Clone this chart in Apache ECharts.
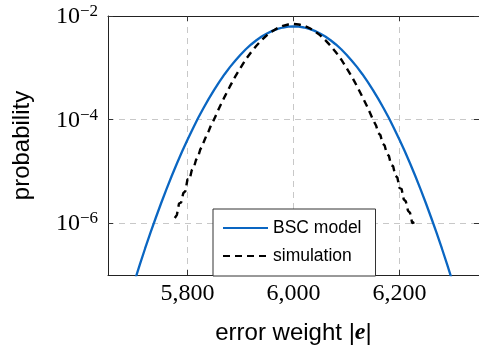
<!DOCTYPE html>
<html><head><meta charset="utf-8">
<script src="https://cdn.jsdelivr.net/npm/echarts@6/dist/echarts.min.js"></script>
<style>html,body{margin:0;padding:0;background:#fff}#c{width:479px;height:350px}</style>
</head><body><div id="c"></div>
<script>
const xTicks = [5800, 6000, 6200];
const yTicks = [1e-6, 1e-4, 1e-2];
const seriesNames = ['BSC model', 'simulation'];

const modelX = [5700,5710,5720,5730,5740,5750,5760,5770,5780,5790,5800,5810,5820,5830,5840,5850,5860,5870,5880,5890,5900,5910,5920,5930,5940,5950,5960,5970,5980,5990,6000,6010,6020,6030,6040,6050,6060,6070,6080,6090,6100,6110,6120,6130,6140,6150,6160,6170,6180,6190,6200,6210,6220,6230,6240,6250,6260,6270,6280,6290,6300];
const modelY = [7.53e-8,1.58e-7,3.25e-7,6.49e-7,1.26e-6,2.40e-6,4.46e-6,8.05e-6,1.42e-5,2.44e-5,4.09e-5,6.68e-5,1.07e-4,1.66e-4,2.51e-4,3.71e-4,5.35e-4,7.52e-4,1.03e-3,1.37e-3,1.79e-3,2.28e-3,2.82e-3,3.40e-3,4.01e-3,4.61e-3,5.16e-3,5.63e-3,6.00e-3,6.23e-3,6.31e-3,6.23e-3,6.00e-3,5.63e-3,5.16e-3,4.61e-3,4.01e-3,3.40e-3,2.82e-3,2.28e-3,1.79e-3,1.37e-3,1.03e-3,7.52e-4,5.35e-4,3.71e-4,2.51e-4,1.66e-4,1.07e-4,6.68e-5,4.09e-5,2.44e-5,1.42e-5,8.05e-6,4.46e-6,2.40e-6,1.26e-6,6.49e-7,3.25e-7,1.58e-7,7.53e-8];

const simX = [5776,5780,5784,5788,5792,5796,5800,5804,5808,5812,5816,5820,5824,5828,5832,5836,5840,5844,
  5850,5860,5870,5880,5890,5900,5910,5920,5930,5940,5950,5960,5970,5980,5990,6000,6010,6020,6030,6040,6050,6060,6070,6080,6090,6100,6110,6120,6130,6140,6150,
  6156,6160,6164,6168,6172,6176,6180,6184,6188,6192,6196,6200,6204,6208,6212,6216,6220,6224,6228];
const simY = [1.26e-6,1.45e-6,2.40e-6,2.51e-6,3.80e-6,4.17e-6,7.08e-6,6.92e-6,1.05e-5,1.18e-5,1.66e-5,1.91e-5,2.63e-5,3.16e-5,3.98e-5,5.01e-5,6.03e-5,7.59e-5,
  1.00e-4,1.70e-4,2.75e-4,4.37e-4,6.76e-4,1.00e-3,1.45e-3,2.00e-3,2.66e-3,3.43e-3,4.27e-3,5.09e-3,5.85e-3,6.46e-3,6.85e-3,7.00e-3,6.85e-3,6.46e-3,5.85e-3,5.09e-3,4.27e-3,3.43e-3,2.66e-3,2.00e-3,1.45e-3,1.00e-3,6.76e-4,4.37e-4,2.75e-4,1.70e-4,1.00e-4,
  7.59e-5,5.50e-5,5.01e-5,3.47e-5,3.16e-5,2.19e-5,2.00e-5,1.32e-5,1.26e-5,8.32e-6,7.59e-6,4.79e-6,4.57e-6,2.88e-6,2.63e-6,1.74e-6,1.58e-6,1.00e-6,1.05e-6];

const SERIF = '"Liberation Serif", "Times New Roman", serif';
const SANS = '"Liberation Sans", Arial, sans-serif';
const gridLine = { show: true, lineStyle: { color: '#c8c8c8', width: 1, type: [6, 5] } };
const frame = { show: true, lineStyle: { color: '#222', width: 1 } };

const chart = echarts.init(document.getElementById('c'), null, { renderer: 'canvas' });
chart.setOption({
  animation: false,
  backgroundColor: '#fff',
  grid: { left: 108, top: 16, width: 372, height: 259, containLabel: false },
  legend: {
    data: seriesNames,
    orient: 'vertical',
    left: 213, top: 209,
    itemWidth: 45, itemHeight: 14, itemGap: 10,
    padding: [10, 14, 11, 9],
    backgroundColor: '#fff', borderColor: '#333', borderWidth: 1, borderRadius: 0,
    itemStyle: { opacity: 0 },
    textStyle: { fontFamily: SANS, fontSize: 17.5, color: '#000' }
  },
  xAxis: [{
    type: 'value', min: 5650, max: 6350, position: 'bottom',
    name: 'error weight |{e|e}|', nameLocation: 'middle', nameGap: 46,
    nameTextStyle: { fontFamily: SANS, fontSize: 24, color: '#000',
      rich: { e: { fontFamily: SERIF, fontSize: 24, fontStyle: 'italic', fontWeight: 'bold', color: '#000' } } },
    axisLine: frame,
    axisTick: { show: true, inside: true, length: 5, customValues: xTicks, lineStyle: { color: '#333' } },
    axisLabel: { customValues: xTicks, margin: 7, fontFamily: SERIF, fontSize: 24, color: '#000',
      formatter: v => v.toLocaleString('en-US') },
    splitLine: Object.assign({ customValues: xTicks }, gridLine)
  }, {
    type: 'value', min: 5650, max: 6350, position: 'top',
    axisLine: frame,
    axisTick: { show: true, inside: true, length: 5, customValues: xTicks, lineStyle: { color: '#333' } },
    axisLabel: { show: false }, splitLine: { show: false }
  }],
  yAxis: [{
    type: 'log', logBase: 10, min: 1e-7, max: 1e-2, position: 'left',
    name: 'probability', nameLocation: 'middle', nameGap: 74,
    nameTextStyle: { fontFamily: SANS, fontSize: 24, color: '#000' },
    axisLine: frame,
    axisTick: { show: true, inside: true, length: 5, customValues: yTicks, lineStyle: { color: '#333' } },
    axisLabel: { customValues: yTicks, margin: 10,
      formatter: v => '{b|10}{s|\u2212' + Math.round(-Math.log10(v)) + '}',
      rich: {
        b: { fontFamily: SERIF, fontSize: 24, lineHeight: 26, verticalAlign: 'bottom', color: '#000' },
        s: { fontFamily: SERIF, fontSize: 17, lineHeight: 17, verticalAlign: 'top', color: '#000' }
      } },
    splitLine: Object.assign({ customValues: yTicks }, gridLine)
  }, {
    type: 'log', logBase: 10, min: 1e-7, max: 1e-2, position: 'right',
    axisLine: frame,
    axisTick: { show: true, inside: true, length: 5, customValues: yTicks, lineStyle: { color: '#333' } },
    axisLabel: { show: false }, splitLine: { show: false }
  }],
  series: [{
    name: seriesNames[0], type: 'line', xAxisIndex: 0, yAxisIndex: 0,
    symbol: 'none', smooth: false, clip: true, z: 3,
    lineStyle: { color: '#0a66c2', width: 2.3 }, itemStyle: { color: '#0a66c2' },
    data: modelX.map((x, i) => [x, modelY[i]])
  }, {
    name: seriesNames[1], type: 'line', xAxisIndex: 0, yAxisIndex: 0,
    symbol: 'none', smooth: false, clip: true, z: 4,
    lineStyle: { color: '#000', width: 2.4, type: [7, 5] }, itemStyle: { color: '#000' },
    data: simX.map((x, i) => [x, simY[i]])
  }]
});
</script></body></html>
